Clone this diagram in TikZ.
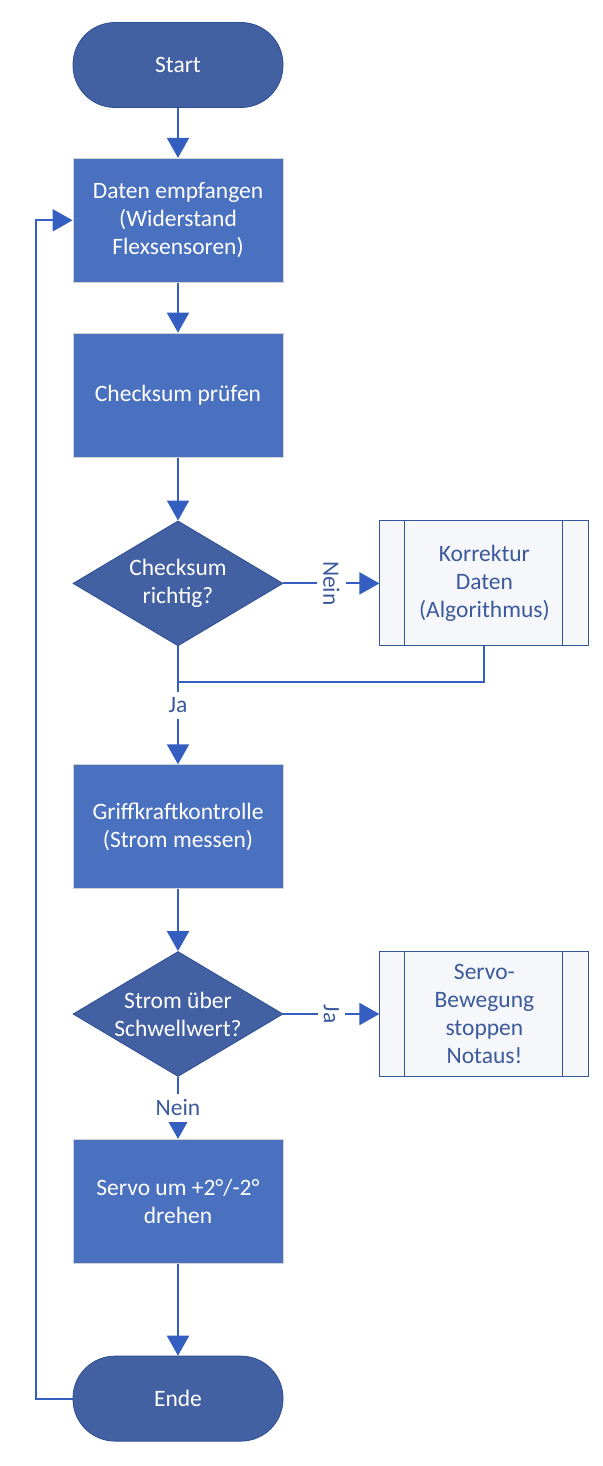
\documentclass[tikz,border=0pt]{standalone}
\usepackage{fontspec}
\setmainfont{Carlito}
\usepackage{xcolor}
\usepackage{tikz}
\usetikzlibrary{shapes.geometric, arrows.meta, positioning, calc}
\definecolor{darkfill}{RGB}{67,96,163}
\definecolor{darkedge}{RGB}{46,78,148}
\definecolor{boxfill}{RGB}{74,112,192}
\definecolor{linkblue}{RGB}{52,94,192}
\definecolor{subedge}{RGB}{52,84,156}
\definecolor{subfill}{RGB}{246,247,251}
\definecolor{labelblue}{RGB}{59,89,155}
\tikzstyle{terminal} = [rectangle, rounded corners=42pt, minimum width=210pt, minimum height=85pt, text centered, draw=darkedge, line width=0.8pt, fill=darkfill, text=white]
\tikzstyle{process} = [rectangle, minimum width=210pt, minimum height=124pt, text centered, align=center, draw=gray!35, line width=0.8pt, fill=boxfill, text=white]
\tikzstyle{decision} = [diamond, aspect=1.68, minimum width=210pt, minimum height=125pt, inner sep=0pt, text centered, align=center, draw=darkedge, line width=0.8pt, fill=darkfill, text=white]
\tikzstyle{subprocess} = [rectangle, minimum width=209pt, minimum height=125pt, text centered, align=center, draw=subedge, line width=1pt, fill=subfill, text=labelblue,
  path picture={\draw[subedge, line width=1pt] ([xshift=25pt]path picture bounding box.north west) -- ([xshift=25pt]path picture bounding box.south west);
                \draw[subedge, line width=1pt] ([xshift=-26pt]path picture bounding box.north east) -- ([xshift=-26pt]path picture bounding box.south east);}]
\tikzstyle{arrow} = [line width=2pt, draw=linkblue, -{Triangle[width=22pt,length=20pt,fill=linkblue]}]
\tikzstyle{line} = [line width=2pt, draw=linkblue]
\tikzstyle{answer} = [fill=white, text=labelblue, inner sep=6pt]

\begin{document}
\begin{tikzpicture}[font=\fontsize{23.5}{28}\selectfont]
    \useasboundingbox (0,0) rectangle (602pt,-1466pt);
    \node (start) [terminal] at (178pt,-65pt) {Start};
    \node (daten) [process, below=50pt of start] {Daten empfangen\\(Widerstand\\Flexsensoren)};
    \node (pruefen) [process, below=50pt of daten] {Checksum prüfen};
    \node (check) [decision, below=63pt of pruefen] {Checksum\\richtig?};
    \node (korrektur) [subprocess, right=96pt of check] {Korrektur\\Daten\\(Algorithmus)};
    \node (griff) [process, below=118pt of check] {Griffkraftkontrolle\\(Strom messen)};
    \node (strom) [decision, below=62pt of griff] {Strom über\\Schwellwert?};
    \node (notaus) [subprocess, right=96pt of strom] {Servo-\\Bewegung\\stoppen\\Notaus!};
    \node (servo) [process, below=62pt of strom] {Servo um +2°/-2°\\drehen};
    \node (ende) [terminal, below=92pt of servo] {Ende};
    \coordinate [below=36pt of check.south] (merge);
    \coordinate [left=37pt of ende.west] (back);

    \draw [arrow] (start) -- (daten);
    \draw [arrow] (daten) -- (pruefen);
    \draw [arrow] (pruefen) -- (check);
    \draw [arrow] (check) -- node[answer, rotate=-90] {Nein} (korrektur);
    \draw [line] (korrektur) |- (merge);
    \draw [arrow] (check) -- node[answer] {Ja} (griff);
    \draw [arrow] (griff) -- (strom);
    \draw [arrow] (strom) -- node[answer, rotate=-90] {Ja} (notaus);
    \draw [arrow] (strom) -- node[answer] {Nein} (servo);
    \draw [arrow] (servo) -- (ende);
    \draw [arrow] (ende) -- (back) |- (daten);
\end{tikzpicture}
\end{document}
